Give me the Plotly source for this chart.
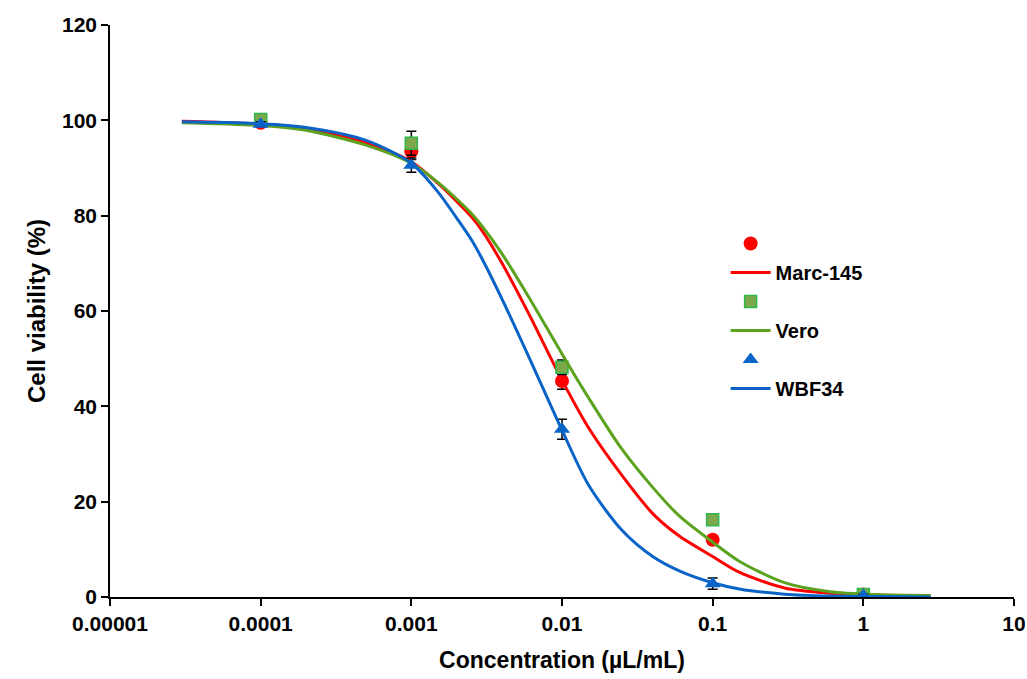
import plotly.graph_objects as go

# ---- data ----
conc_points = [1e-4, 1e-3, 1e-2, 1e-1, 1.0]
marc_mean = [99.5, 93.5, 45.3, 12.0, 0.5]
marc_err = [0.5, 1.7, 1.7, 0.8, 0.3]
vero_mean = [100.2, 95.2, 48.2, 16.2, 0.5]
vero_err = [0.5, 2.5, 1.5, 0.8, 0.3]
wbf_mean = [99.2, 90.6, 35.2, 2.8, 0.3]
wbf_err = [0.5, 1.5, 2.1, 1.2, 0.3]

curve_x = [3e-5, 1e-4, 2e-4, 5e-4, 1e-3, 1.5e-3, 2e-3, 2.5e-3, 3e-3, 4e-3, 6e-3, 1e-2,
           1.5e-2, 2.5e-2, 4e-2, 6e-2, 0.1, 0.15, 0.3, 0.6, 1.2, 2.8]
marc_curve = [99.8, 99.2, 98.3, 95.3, 91.3, 86.8, 83.0, 79.8, 76.5, 70.0, 59.5, 45.5,
              35.5, 25.5, 17.5, 12.8, 8.5, 5.2, 1.9, 0.8, 0.4, 0.2]
vero_curve = [99.5, 98.9, 97.9, 94.8, 91.0, 87.0, 83.5, 80.5, 77.5, 72.0, 63.0, 51.0,
              41.8, 31.0, 23.0, 17.0, 11.5, 7.5, 3.0, 1.1, 0.5, 0.3]
wbf_curve = [99.7, 99.3, 98.5, 95.8, 91.0, 85.0, 79.5, 75.0, 70.5, 62.5, 50.5, 35.0,
             23.5, 14.0, 8.5, 5.5, 3.0, 1.7, 0.6, 0.2, 0.1, 0.0]

tick_vals = [1e-5, 1e-4, 1e-3, 1e-2, 1e-1, 1, 10]
tick_text = ["0.00001", "0.0001", "0.001", "0.01", "0.1", "1", "10"]

RED = "#FF0000"
GREEN = "#5BA21E"
BLUE = "#0A64C8"

fig = go.Figure()

def add_series(name, mean, err, curve, color, symbol, mfill, mline):
    fig.add_trace(go.Scatter(
        x=conc_points, y=mean, mode="markers", name="",
        marker=dict(symbol=symbol, size=14 if symbol != "square" else 12,
                    color=mfill, line=dict(color=mline, width=1.5 if symbol == "square" else 0)),
        error_y=dict(type="data", array=err, visible=True, color="black",
                     thickness=1.5, width=5),
        showlegend=True,
    ))
    fig.add_trace(go.Scatter(
        x=curve_x, y=curve, mode="lines", name=name,
        line=dict(color=color, width=3, shape="spline", smoothing=0.8),
    ))

add_series("Marc-145", marc_mean, marc_err, marc_curve, RED, "circle", RED, RED)
add_series("Vero", vero_mean, vero_err, vero_curve, GREEN, "square", "#7DA84C", "#2DB84C")
add_series("WBF34", wbf_mean, wbf_err, wbf_curve, BLUE, "triangle-up", BLUE, BLUE)

fig.update_layout(
    width=1027, height=679,
    margin=dict(l=110, r=13, t=25, b=82),
    paper_bgcolor="white", plot_bgcolor="white",
    font=dict(family="Liberation Sans, Arial, sans-serif", size=20, color="black", weight="bold"),
    legend=dict(x=0.681, y=0.652, xanchor="left", yanchor="top",
                bgcolor="rgba(0,0,0,0)", tracegroupgap=0,
                font=dict(size=20, weight="bold"), itemwidth=40),
    showlegend=True,
)
fig.update_xaxes(
    type="log", range=[-5, 1], tickvals=tick_vals, ticktext=tick_text,
    showline=True, linecolor="black", linewidth=1.5, ticks="outside",
    ticklen=7, tickcolor="black", tickwidth=1.5, showgrid=False, zeroline=False,
    automargin=False,
    title=dict(text="Concentration (µL/mL)", font=dict(size=23, weight="bold"), standoff=18),
    tickfont=dict(size=21, weight="bold"),
)
fig.update_yaxes(
    range=[0, 120], dtick=20, showline=True, linecolor="black", linewidth=1.5,
    ticks="outside", ticklen=7, tickcolor="black", tickwidth=1.5,
    showgrid=False, zeroline=False, automargin=False,
    title=dict(text="Cell viability (%)", font=dict(size=24, weight="bold"), standoff=10),
    tickfont=dict(size=21, weight="bold"),
)

fig.write_html("out.html")
